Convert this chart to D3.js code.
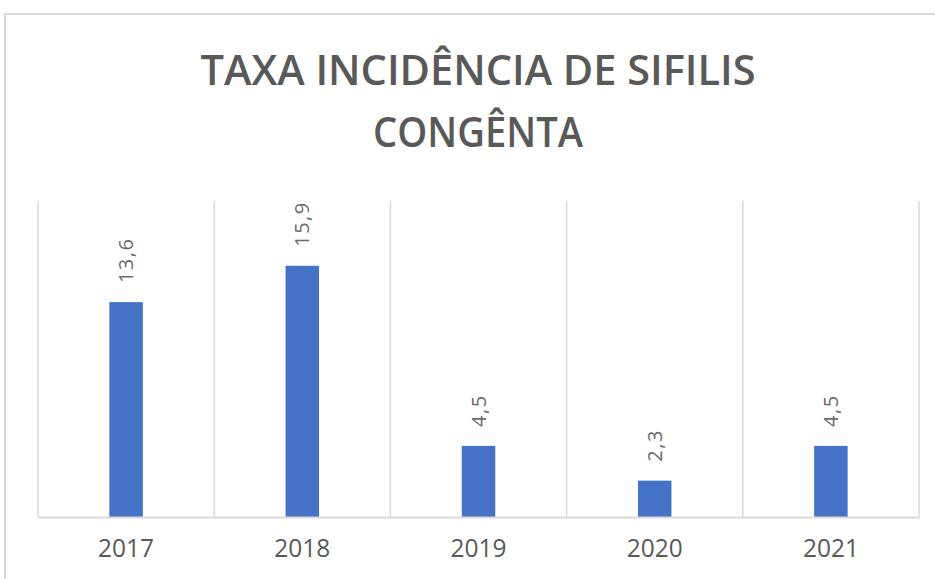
<!DOCTYPE html>
<html>
<head>
<meta charset="utf-8">
<script src="https://cdn.jsdelivr.net/npm/d3@7"></script>
<style>
  body { margin: 0; background: #fff; }
  svg { display: block; font-family: "Open Sans", "DejaVu Sans", sans-serif; }
</style>
</head>
<body>
<div class="chart"></div>
<script>
// Data
const years = ['2017', '2018', '2019', '2020', '2021'];
const rates = [13.6, 15.9, 4.5, 2.3, 4.5];
const titleLines = ['TAXA INCIDÊNCIA DE SIFILIS', 'CONGÊNTA'];
const yDomain = [0, 20];

const data = years.map((y, i) => ({year: y, rate: rates[i]}));
const fmt = v => d3.format('.1f')(v).replace('.', ',');

const svg_width = 935, svg_height = 579;
const margin = {top: 201, right: 16, bottom: 62, left: 38};
const chart_width = svg_width - margin.left - margin.right;
const chart_height = svg_height - margin.top - margin.bottom;

const svg = d3.select('.chart').append('svg')
  .attr('width', svg_width).attr('height', svg_height);

// outer frame
svg.append('rect')
  .attr('x', 5).attr('y', 14)
  .attr('width', svg_width + 20).attr('height', svg_height + 20)
  .attr('fill', 'none').attr('stroke', '#d9d9d9').attr('stroke-width', 2);

// title
const title = svg.append('g').attr('class', 'title');
title.selectAll('text').data(titleLines).enter().append('text')
  .attr('x', 478).attr('y', (d, i) => 85 + i * 62)
  .attr('text-anchor', 'middle')
  .attr('textLength', (d, i) => i === 0 ? 555 : 210)
  .attr('lengthAdjust', 'spacingAndGlyphs')
  .style('font-size', '41px').style('font-weight', 600)
  .style('fill', '#595959')
  .text(d => d);

const g = svg.append('g').attr('transform', `translate(${margin.left},${margin.top})`);

const xScale = d3.scaleBand().domain(years).range([0, chart_width]).padding(0);
const yScale = d3.scaleLinear().domain(yDomain).range([chart_height, 0]);
const barW = xScale.bandwidth() * 0.19;

// vertical separators
const seps = years.map(y => xScale(y)).concat([chart_width]);
g.selectAll('.sep').data(seps).enter().append('line')
  .attr('class', 'sep')
  .attr('x1', d => d).attr('x2', d => d)
  .attr('y1', 0).attr('y2', chart_height)
  .attr('stroke', '#d9d9d9').attr('stroke-width', 1.5);

// bars
g.selectAll('.bar').data(data).enter().append('rect')
  .attr('class', 'bar')
  .attr('x', d => xScale(d.year) + xScale.bandwidth() / 2 - barW / 2)
  .attr('y', d => yScale(d.rate))
  .attr('width', barW)
  .attr('height', d => chart_height - yScale(d.rate))
  .style('fill', '#4472c4');

// value labels
g.selectAll('.lbl').data(data).enter().append('text')
  .attr('class', 'lbl')
  .attr('transform', d => `translate(${xScale(d.year) + xScale.bandwidth() / 2 + 7},${yScale(d.rate) - 19}) rotate(-90)`)
  .style('font-size', '20px').style('letter-spacing', '1.5px')
  .style('fill', '#6b6b6b')
  .text(d => fmt(d.rate));

// x axis
const xAxis = d3.axisBottom(xScale).tickSize(0).tickPadding(0);
const xAxisDraw = g.append('g').attr('class', 'x axis')
  .attr('transform', `translate(0,${chart_height})`)
  .call(xAxis);
xAxisDraw.select('.domain').attr('stroke', '#d9d9d9').attr('stroke-width', 2);
xAxisDraw.selectAll('text')
  .attr('y', 40).attr('dy', 0)
  .attr('textLength', 56).attr('lengthAdjust', 'spacingAndGlyphs')
  .style('font-size', '25px').style('font-family', '"Open Sans", sans-serif')
  .style('fill', '#595959');
</script>
</body>
</html>
